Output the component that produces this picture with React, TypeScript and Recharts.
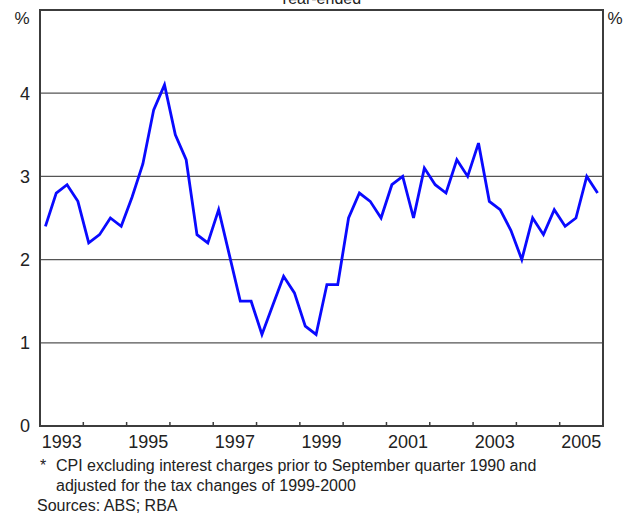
import { LineChart, Line, XAxis, YAxis, CartesianGrid, ReferenceLine } from "recharts";

// quarterly, year-ended %, Mar 1993 .. Dec 2005
const startYear = 1993;
const values = [
  2.4, 2.8, 2.9, 2.7, 2.2, 2.3, 2.5, 2.4,
  2.75, 3.15, 3.8, 4.1, 3.5, 3.2, 2.3, 2.2,
  2.6, 2.05, 1.5, 1.5, 1.1, 1.45, 1.8, 1.6,
  1.2, 1.1, 1.7, 1.7, 2.5, 2.8, 2.7, 2.5,
  2.9, 3.0, 2.5, 3.1, 2.9, 2.8, 3.2, 3.0,
  3.4, 2.7, 2.6, 2.35, 2.0, 2.5, 2.3, 2.6,
  2.4, 2.5, 3.0, 2.8,
];
const tickYears = [1993, 1994, 1995, 1996, 1997, 1998, 1999, 2000, 2001, 2002, 2003, 2004, 2005, 2006];
const labelYears = [1993, 1995, 1997, 1999, 2001, 2003, 2005];
const yTicks = [0, 1, 2, 3, 4];

const data = values.map((v, i) => ({ t: startYear + (i + 0.5) / 4, v }));

const W = 624;
const H = 516;
const LEFT = 40;
const RIGHT = 21;
const TOP = 10;
const BOTTOM = 90;
const FONT = '"Liberation Sans", Arial, sans-serif';
const AX = "#3c3c3c";
// half a year in pixels, to centre each label inside its year
const HALF_YEAR = (W - LEFT - RIGHT) / (tickYears.length - 1) / 2;

const YearTick = ({ x, y, payload }: { x?: number; y?: number; payload?: { value: number } }) => {
  const yr = payload?.value ?? 0;
  const px = x ?? 0;
  const py = y ?? 0;
  return (
    <g>
      <line x1={px} x2={px} y1={py} y2={py - 4} stroke={AX} strokeWidth={1.5} />
      {labelYears.includes(yr) && (
        <text x={px + HALF_YEAR} y={py + 9} dy="0.71em" textAnchor="middle" fontSize={18} fill="#222" fontFamily={FONT}>
          {yr}
        </text>
      )}
    </g>
  );
};

export default function App() {
  return (
    <div style={{ position: "absolute", left: 0, top: 0, width: W, height: H, background: "#fff", overflow: "hidden", fontFamily: FONT }}>
      <LineChart width={W} height={H} data={data} margin={{ top: TOP, right: 0, bottom: BOTTOM - 30, left: 0 }}>
        <CartesianGrid yAxisId="l" vertical={false} stroke="#555" strokeWidth={1.3} />
        <XAxis dataKey="t" type="number" domain={[1993, 2006]} ticks={tickYears} interval={0}
          height={30} tickSize={0} tickMargin={0} tick={<YearTick />} axisLine={{ stroke: AX, strokeWidth: 2 }} />
        <YAxis yAxisId="l" domain={[0, 5]} ticks={yTicks} width={LEFT} tickSize={0} tickMargin={10}
          tickLine={false} axisLine={{ stroke: AX, strokeWidth: 2 }} tick={{ fontSize: 18, fill: "#222", fontFamily: FONT }} />
        <YAxis yAxisId="r" orientation="right" domain={[0, 5]} ticks={yTicks} width={RIGHT} tickSize={0} tickMargin={5}
          tickLine={false} axisLine={{ stroke: AX, strokeWidth: 2 }} tick={{ fontSize: 18, fill: "#222", fontFamily: FONT }} />
        <ReferenceLine yAxisId="l" y={5} stroke={AX} strokeWidth={2} ifOverflow="visible" />
        <Line yAxisId="l" dataKey="v" type="linear" stroke="#0a0aff" strokeWidth={2.8}
          dot={false} isAnimationActive={false} />
      </LineChart>
      <svg width={W} height={H} style={{ position: "absolute", left: 0, top: 0, pointerEvents: "none" }}>
        {/* plot frame */}
        <rect x={LEFT} y={TOP} width={W - LEFT - RIGHT} height={H - TOP - BOTTOM} fill="none" stroke={AX} strokeWidth={2} />
        <g fontFamily={FONT} fill="#222">
          <text x={320} y={4} fontSize={16} textAnchor="middle">Year-ended</text>
          <text x={22} y={24} fontSize={17} textAnchor="middle">%</text>
          <text x={615} y={24} fontSize={17} textAnchor="middle">%</text>
          <text x={40} y={471} fontSize={16}>*</text>
          <text x={56} y={471} fontSize={16}>CPI excluding interest charges prior to September quarter 1990 and</text>
          <text x={56} y={491} fontSize={16}>adjusted for the tax changes of 1999-2000</text>
          <text x={37} y={511} fontSize={16}>Sources: ABS; RBA</text>
        </g>
      </svg>
    </div>
  );
}
